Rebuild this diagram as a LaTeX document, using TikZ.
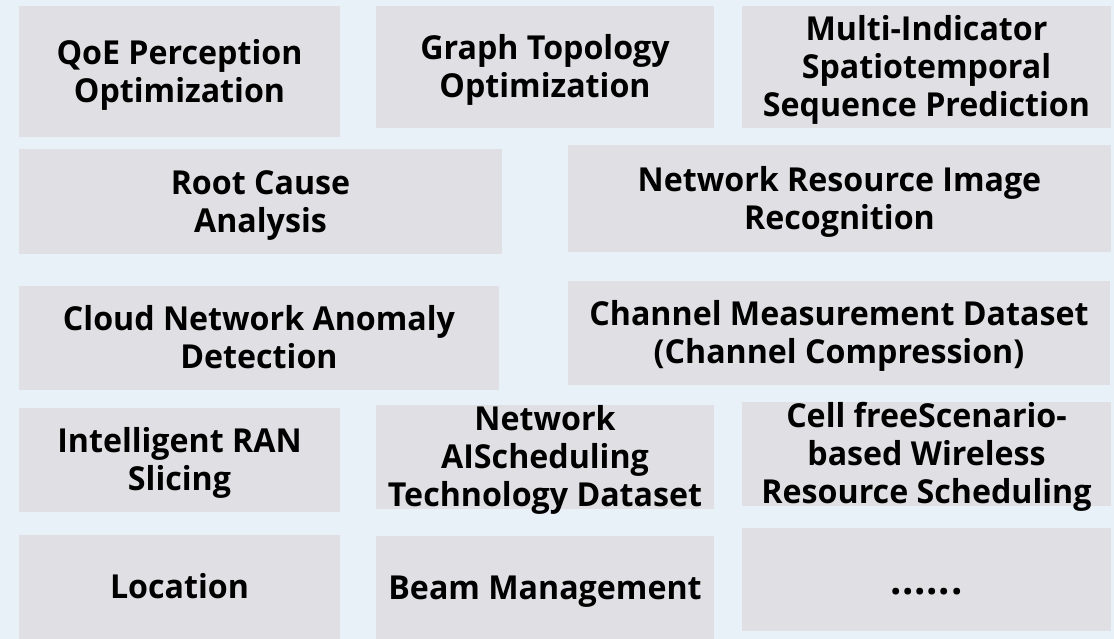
\documentclass[tikz,border=0pt]{standalone}
\usepackage{fontspec}
\setmainfont{Open Sans}[FakeStretch=0.975]
\definecolor{pagebg}{RGB}{232,240,248}
\definecolor{tilegray}{RGB}{224,224,228}
\tikzset{
  tile/.style={fill=tilegray, draw=none, rectangle, inner sep=0pt, align=center,
    text=black, font=\fontsize{33}{38}\selectfont\bfseries},
}
% a line whose height is the cap height and whose depth is zero,
% so that each label is centred from cap line to last baseline
\newcommand{\capline}[1]{\raisebox{0pt}[\fontcharht\font`A][0pt]{#1}}
% place a tile by its corners (x1,y1) (x2,y2); y grows downward
\newcommand{\tileat}[6]{%
  \node[tile, minimum width=#4-#2, minimum height=#5-#3] (#1)
    at ({(#2+#4)/2},{(#3+#5)/2}) {#6};}
\begin{document}
\begin{tikzpicture}[x=1pt,y=-1pt]
  \fill[pagebg] (0,0) rectangle (1114,639);
  \useasboundingbox (0,0) rectangle (1114,639);

  \tileat{qoe}{19}{6}{340}{137}{\capline{QoE Perception}\\\capline{Optimization}}
  \tileat{graph}{376}{6}{714}{128}{\capline{Graph Topology}\\\capline{Optimization}}
  \tileat{multi}{742}{6}{1111}{128}{\capline{Multi-Indicator}\\Spatiotemporal\\\capline{Sequence Prediction}}

  \tileat{root}{19}{149}{502}{254}{\capline{Root Cause}\\\capline{Analysis}}
  \tileat{netres}{568}{145}{1111}{252}{\capline{Network Resource Image}\\\capline{Recognition}}

  \tileat{cloud}{19}{286}{499}{390}{\capline{Cloud Network Anomaly}\\\capline{Detection}}
  \tileat{channel}{568}{281}{1110}{385}{\capline{Channel Measurement Dataset}\\\capline{(Channel Compression)}}

  \tileat{ran}{19}{408}{340}{512}{\capline{Intelligent RAN}\\\capline{Slicing}}
  \tileat{netai}{376}{405}{714}{509}{\capline{Network}\\AIScheduling\\\capline{Technology Dataset}}
  \tileat{cellfree}{742}{402}{1111}{506}{\capline{Cell freeScenario-}\\based Wireless\\\capline{Resource Scheduling}}

  \tileat{location}{19}{535}{340}{639}{\capline{Location}}
  \tileat{beam}{376}{536}{714}{639}{\capline{Beam Management}}
  \tileat{more}{742}{528}{1111}{631}{\fontsize{41}{38}\selectfont
    \capline{.\kern0.7pt.\kern0.7pt.\kern0.7pt.\kern0.7pt.\kern0.7pt.}}
\end{tikzpicture}
\end{document}
